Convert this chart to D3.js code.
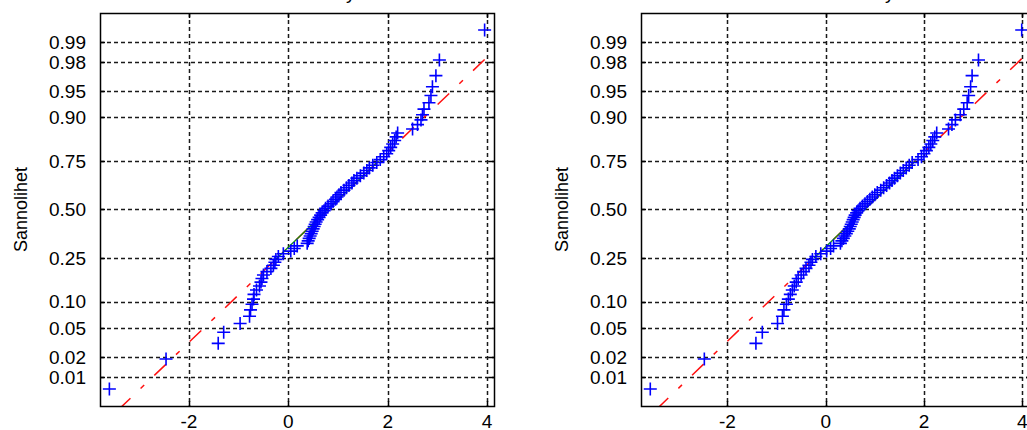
<!DOCTYPE html>
<html>
<head>
<meta charset="utf-8">
<script src="https://cdn.jsdelivr.net/npm/d3@7"></script>
<style>
  html, body { margin: 0; padding: 0; background: #fff; }
  svg { display: block; }
  text { font-family: Arial, "Liberation Sans", Helvetica, sans-serif; fill: #000; }
</style>
</head>
<body>
<svg id="chart" width="1027" height="430"></svg>
<script>
// Probability gridlines and their labels
const probTicks  = [0.01, 0.02, 0.05, 0.10, 0.25, 0.50, 0.75, 0.90, 0.95, 0.98, 0.99];
const probLabels = ["0.01", "0.02", "0.05", "0.10", "0.25", "0.50", "0.75", "0.90", "0.95", "0.98", "0.99"];
const xTicks  = [-2, 0, 2, 4];
const xLabels = ["-2", "0", "2", "4"];

const yLabel = "Sannolihet";
const titleText = "Normal Probability Plot";

// Sorted samples shown in each panel
const sampleLeft = [
  -3.60, -2.46, -1.41, -1.30, -0.97,
  -0.78, -0.76, -0.73, -0.70, -0.69, -0.64, -0.58, -0.55, -0.53, -0.50,
  -0.43, -0.35, -0.30, -0.27, -0.25,
  -0.20, -0.10, 0.05, 0.12, 0.18,
  0.38, 0.40, 0.42, 0.44, 0.46, 0.48, 0.50, 0.52, 0.54, 0.56, 0.59, 0.62, 0.65, 0.68, 0.72,
  0.75, 0.80, 0.86, 0.90, 0.95, 0.98, 1.02, 1.06, 1.12, 1.17,
  1.22, 1.28, 1.32, 1.38, 1.45, 1.52, 1.58, 1.63, 1.70, 1.78,
  1.85, 1.92, 1.98, 2.02, 2.06, 2.10, 2.14, 2.17, 2.20, 2.50,
  2.60, 2.67, 2.70, 2.73, 2.83, 2.87, 2.90, 2.97, 3.04, 3.95
];
const sampleRight = [
  -3.57, -2.47, -1.42, -1.29, -0.98,
  -0.88, -0.85, -0.80, -0.76, -0.72, -0.68, -0.64, -0.60, -0.56, -0.50,
  -0.45, -0.40, -0.34, -0.30, -0.27, -0.20,
  -0.10, 0.02, 0.10, 0.16,
  0.30, 0.33, 0.36, 0.39, 0.42, 0.45, 0.48, 0.50, 0.52, 0.54, 0.56, 0.58, 0.60, 0.63, 0.66,
  0.70, 0.75, 0.80, 0.85, 0.90, 0.95, 1.00, 1.05, 1.12, 1.18,
  1.24, 1.30, 1.35, 1.40, 1.46, 1.52, 1.58, 1.64, 1.70, 1.76,
  1.88, 1.95, 2.00, 2.05, 2.10, 2.14, 2.18, 2.22, 2.26,
  2.50, 2.57, 2.64, 2.74, 2.81, 2.88, 2.91, 2.95, 2.98, 3.11,
  3.99
];

// Inverse standard normal CDF (Acklam's rational approximation)
function qnorm(p) {
  const a = [-3.969683028665376e+01, 2.209460984245205e+02, -2.759285104469687e+02,
              1.383577518672690e+02, -3.066479806614716e+01, 2.506628277459239e+00];
  const b = [-5.447609879822406e+01, 1.615858368580409e+02, -1.556989798598866e+02,
              6.680131188771972e+01, -1.328068155288572e+01];
  const c = [-7.784894002430293e-03, -3.223964580411365e-01, -2.400758277161838e+00,
             -2.549671010229161e+00, 4.374664141464968e+00, 2.938163982698783e+00];
  const d = [7.784695709041462e-03, 3.224671290700398e-01, 2.445134137142996e+00,
             3.754408661907416e+00];
  const pl = 0.02425, ph = 1 - pl;
  let q, r;
  if (p < pl) {
    q = Math.sqrt(-2 * Math.log(p));
    return (((((c[0]*q+c[1])*q+c[2])*q+c[3])*q+c[4])*q+c[5]) /
           ((((d[0]*q+d[1])*q+d[2])*q+d[3])*q+1);
  }
  if (p <= ph) {
    q = p - 0.5; r = q * q;
    return (((((a[0]*r+a[1])*r+a[2])*r+a[3])*r+a[4])*r+a[5])*q /
           (((((b[0]*r+b[1])*r+b[2])*r+b[3])*r+b[4])*r+1);
  }
  q = Math.sqrt(-2 * Math.log(1 - p));
  return -(((((c[0]*q+c[1])*q+c[2])*q+c[3])*q+c[4])*q+c[5]) /
          ((((d[0]*q+d[1])*q+d[2])*q+d[3])*q+1);
}

// Percentile of sorted data, interpolating between plotting positions
function prctile(sorted, pct) {
  const n = sorted.length;
  const pos = n * pct / 100 + 0.5;
  const lo = Math.floor(pos), hi = Math.ceil(pos);
  const f = pos - lo;
  return sorted[lo - 1] * (1 - f) + sorted[hi - 1] * f;
}

const svg = d3.select("#chart");
const TOP = 13, BOTTOM = 406;

function drawPanel(id, left, right, data) {
  const n = data.length;
  const lo = d3.min(data), hi = d3.max(data), span = hi - lo;
  const x = d3.scaleLinear().domain([lo - 0.025 * span, hi + 0.025 * span]).range([left, right]);
  const y = d3.scaleLinear().domain([qnorm(0.25 / n), qnorm(1 - 0.25 / n)]).range([BOTTOM, TOP]);
  const yp = p => y(qnorm(p));

  const g = svg.append("g");
  g.append("clipPath").attr("id", "clip" + id)
    .append("rect").attr("x", left).attr("y", TOP).attr("width", right - left).attr("height", BOTTOM - TOP);

  // dashed grid
  const grid = g.append("g").attr("stroke", "#1a1a1a").attr("stroke-width", 1.5)
    .attr("stroke-dasharray", "4,3");
  grid.selectAll(".gx").data(xTicks).join("line")
    .attr("x1", d => Math.round(x(d)) + 0.5).attr("x2", d => Math.round(x(d)) + 0.5)
    .attr("y1", TOP).attr("y2", BOTTOM);
  grid.selectAll(".gy").data(probTicks).join("line")
    .attr("x1", left).attr("x2", right)
    .attr("y1", d => Math.round(yp(d)) + 0.5).attr("y2", d => Math.round(yp(d)) + 0.5);

  // inward ticks on all four sides
  const tk = g.append("g").attr("stroke", "#000").attr("stroke-width", 1.5);
  const tl = 5;
  xTicks.forEach(t => {
    const px = Math.round(x(t)) + 0.5;
    tk.append("line").attr("x1", px).attr("x2", px).attr("y1", BOTTOM).attr("y2", BOTTOM - tl);
    tk.append("line").attr("x1", px).attr("x2", px).attr("y1", TOP).attr("y2", TOP + tl);
  });
  probTicks.forEach(t => {
    const py = Math.round(yp(t)) + 0.5;
    tk.append("line").attr("x1", left).attr("x2", left + tl).attr("y1", py).attr("y2", py);
    tk.append("line").attr("x1", right).attr("x2", right - tl).attr("y1", py).attr("y2", py);
  });

  // reference lines through the quartiles
  const q1 = prctile(data, 25), q3 = prctile(data, 75);
  const z1 = qnorm(0.25), z3 = qnorm(0.75);
  const slope = (z3 - z1) / (q3 - q1);
  const fit = v => z1 + slope * (v - q1);
  const lines = g.append("g").attr("clip-path", `url(#clip${id})`);
  lines.append("line")
    .attr("x1", x(hi)).attr("y1", y(fit(hi))).attr("x2", x(lo)).attr("y2", y(fit(lo)))
    .attr("stroke", "#ff1010").attr("stroke-width", 1.5).attr("stroke-dasharray", "16,14,5,14");
  lines.append("line")
    .attr("x1", x(q1)).attr("y1", y(z1)).attr("x2", x(q3)).attr("y2", y(z3))
    .attr("stroke", "#109010").attr("stroke-width", 1.3);

  // data markers
  const s = 6.5;
  g.append("g").attr("stroke", "#0000ff").attr("stroke-width", 1.6).attr("fill", "none")
    .selectAll("path").data(data).join("path")
    .attr("d", (d, i) => {
      const cx = x(d), cy = yp((i + 0.5) / n);
      return `M${cx - s},${cy}H${cx + s}M${cx},${cy - s}V${cy + s}`;
    });

  // frame
  g.append("rect").attr("x", left + 0.5).attr("y", TOP + 0.5)
    .attr("width", right - left).attr("height", BOTTOM - TOP)
    .attr("fill", "none").attr("stroke", "#000").attr("stroke-width", 1.5);

  // tick labels
  g.append("g").selectAll("text").data(probTicks).join("text")
    .attr("x", left - 14).attr("y", d => yp(d)).attr("dy", "0.36em")
    .attr("text-anchor", "end").attr("font-size", 19)
    .text((d, i) => probLabels[i]);
  g.append("g").selectAll("text").data(xTicks).join("text")
    .attr("x", d => x(d)).attr("y", 428)
    .attr("text-anchor", "middle").attr("font-size", 19)
    .text((d, i) => xLabels[i]);

  // axis label and title
  g.append("text")
    .attr("transform", `translate(${left - 73},${(TOP + BOTTOM) / 2}) rotate(-90)`)
    .attr("text-anchor", "middle").attr("font-size", 18)
    .text(yLabel);
  g.append("text")
    .attr("x", (left + right) / 2).attr("y", -1)
    .attr("text-anchor", "middle").attr("font-size", 19)
    .text(titleText);
}

drawPanel("A", 100, 494, sampleLeft);
drawPanel("B", 641, 1031, sampleRight);
</script>
</body>
</html>
